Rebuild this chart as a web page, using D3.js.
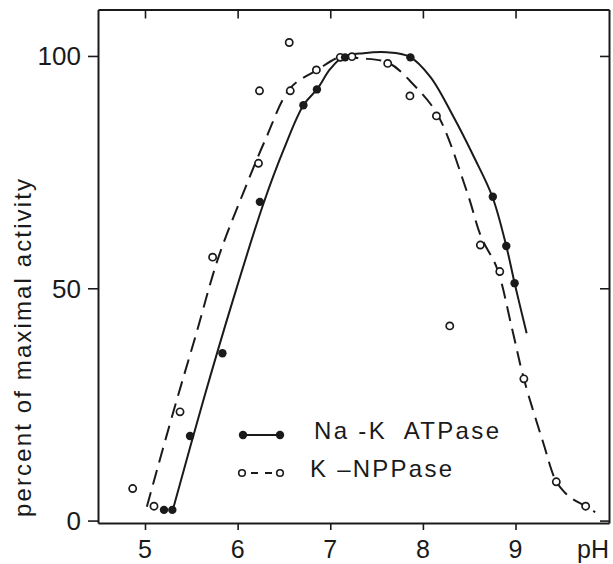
<!DOCTYPE html>
<html><head><meta charset="utf-8">
<script src="https://cdn.jsdelivr.net/npm/d3@7"></script>
<style>
html,body{margin:0;padding:0;background:#fff;}
svg{display:block;}
text{font-family:"Liberation Sans",Arial,Helvetica,sans-serif;fill:#1a1a1a;}
</style></head>
<body>
<script>
// ---- data ----
const xTicks = [5, 6, 7, 8, 9];
const yTicks = [0, 50, 100];
const xAxisUnit = "pH";
const yAxisTitle = "percent of maximal activity";
const legendLabels = ["Na -K  ATPase", "K \u2013NPPase"];

// Na-K ATPase measured points
const atpasePH  = [5.205, 5.295, 5.486, 5.836, 6.24, 6.71, 6.856, 7.16, 7.865, 8.755, 8.90, 8.99];
const atpaseVal = [2.3,   2.3,   18.2,  36.0,  68.6, 89.4, 92.8,  99.7, 99.7,  69.7,  59.1, 51.1];

// K-NPPase measured points
const nppasePH  = [4.867, 5.097, 5.378, 5.73, 6.225, 6.236, 6.557, 6.568, 6.85, 7.108, 7.234, 7.62, 7.86, 8.146, 8.29, 8.62, 8.83, 9.09, 9.44, 9.757];
const nppaseVal = [6.9,   3.1,   23.4,  56.7, 76.9,  92.5,  102.9, 92.5,  97.0, 99.7,  99.85, 98.4, 91.4, 87.1,  41.9, 59.3, 53.6, 30.5, 8.35, 3.1];

// fitted curves
const atpaseFitPH  = [5.30, 5.63, 5.95, 6.28, 6.50, 6.71, 6.86, 7.00, 7.14, 7.36, 7.61, 7.85, 8.08, 8.33, 8.55, 8.75, 8.90, 8.99, 9.12];
const atpaseFitVal = [2.3,  25.9, 47.5, 68.3, 80.0, 89.4, 92.9, 97.2, 99.8, 100.6, 100.8, 99.9, 95.5, 86.9, 78.3, 69.7, 59.1, 51.1, 40.3];

const nppaseFitPH  = [5.02, 5.30, 5.55, 5.79, 6.06, 6.30, 6.57, 6.86, 7.11, 7.32, 7.63, 7.90, 8.16, 8.48, 8.63, 8.80, 8.96, 9.09, 9.30, 9.43, 9.52, 9.62, 9.76, 9.86];
const nppaseFitVal = [3.0,  23.0, 40.0, 56.5, 70.5, 82.0, 93.1, 97.0, 99.8, 99.5, 98.5, 93.8, 87.3, 70.5, 61.0, 54.3, 41.5, 30.5, 16.7, 8.8,  6.3,  4.6,  3.1,  1.8];

// ---- drawing ----
const W = 613, H = 564;
const L = 98, R = 609, T = 9.5, B = 523;
const svg = d3.select("body").append("svg").attr("width", W).attr("height", H);

const x = d3.scaleLinear().domain([4.4926, 10.009]).range([L, R]);
const y = d3.scaleLinear().domain([-0.52, 110.0]).range([B, T]);

const ink = "#1a1a1a";

// frame + ticks via axes
function styleAxis(g){
  g.selectAll("text").remove();
  g.select(".domain").attr("stroke", ink).attr("stroke-width", 2);
  g.selectAll(".tick line").attr("stroke", ink).attr("stroke-width", 1.6);
}
svg.append("g").attr("transform", `translate(0,${B})`)
  .call(d3.axisBottom(x).tickValues(xTicks).tickSize(7).tickSizeOuter(0)).call(styleAxis);
svg.append("g").attr("transform", `translate(0,${T})`)
  .call(d3.axisTop(x).tickValues(xTicks).tickSize(-9).tickSizeOuter(0)).call(styleAxis);
svg.append("g").attr("transform", `translate(${L},0)`)
  .call(d3.axisLeft(y).tickValues(yTicks).tickSize(10).tickSizeOuter(0)).call(styleAxis);
svg.append("g").attr("transform", `translate(${R},0)`)
  .call(d3.axisRight(y).tickValues(yTicks).tickSize(-9).tickSizeOuter(0)).call(styleAxis);

// tick labels
svg.append("g").selectAll("text").data(xTicks).join("text")
  .attr("x", d => x(d)).attr("y", 558).attr("text-anchor", "middle")
  .attr("font-size", 25).text(d => d);
svg.append("text").attr("x", 577).attr("y", 558).attr("font-size", 25).text(xAxisUnit);
svg.append("g").selectAll("text").data(yTicks).join("text")
  .attr("x", 81).attr("y", d => y(d) + 9.5).attr("text-anchor", "end")
  .attr("font-size", 26).text(d => d);

// y axis title
svg.append("text")
  .attr("transform", `translate(31,${348}) rotate(-90)`)
  .attr("text-anchor", "middle").attr("font-size", 24)
  .attr("textLength", 338).attr("lengthAdjust", "spacing")
  .text(yAxisTitle);

// curves
const line = d3.line().x(d => x(d[0])).y(d => y(d[1])).curve(d3.curveCatmullRom.alpha(0.5));
svg.append("path").datum(d3.zip(atpaseFitPH, atpaseFitVal))
  .attr("d", line).attr("fill", "none").attr("stroke", ink).attr("stroke-width", 2);
svg.append("path").datum(d3.zip(nppaseFitPH, nppaseFitVal))
  .attr("d", line).attr("fill", "none").attr("stroke", ink).attr("stroke-width", 2)
  .attr("stroke-dasharray", "15,8");

// points
svg.append("g").selectAll("circle").data(d3.zip(nppasePH, nppaseVal)).join("circle")
  .attr("cx", d => x(d[0])).attr("cy", d => y(d[1])).attr("r", 3.6)
  .attr("fill", "#fff").attr("stroke", ink).attr("stroke-width", 1.7);
svg.append("g").selectAll("circle").data(d3.zip(atpasePH, atpaseVal)).join("circle")
  .attr("cx", d => x(d[0])).attr("cy", d => y(d[1])).attr("r", 4.2)
  .attr("fill", ink);

// legend
const lg = svg.append("g");
lg.append("line").attr("x1", 243).attr("x2", 280).attr("y1", 435).attr("y2", 435)
  .attr("stroke", ink).attr("stroke-width", 2);
[243, 280].forEach(cx => lg.append("circle").attr("cx", cx).attr("cy", 435).attr("r", 4.2).attr("fill", ink));
lg.append("line").attr("x1", 251).attr("x2", 272).attr("y1", 473).attr("y2", 473)
  .attr("stroke", ink).attr("stroke-width", 2).attr("stroke-dasharray", "7,7");
[242, 280].forEach(cx => lg.append("circle").attr("cx", cx).attr("cy", 473).attr("r", 3.3)
  .attr("fill", "#fff").attr("stroke", ink).attr("stroke-width", 1.6));
lg.append("text").attr("x", 314).attr("y", 439).attr("font-size", 24)
  .attr("textLength", 185).attr("lengthAdjust", "spacing")
  .style("white-space", "pre").text(legendLabels[0]);
lg.append("text").attr("x", 310).attr("y", 477).attr("font-size", 24)
  .attr("textLength", 142).attr("lengthAdjust", "spacing")
  .style("white-space", "pre").text(legendLabels[1]);
</script>
</body></html>
